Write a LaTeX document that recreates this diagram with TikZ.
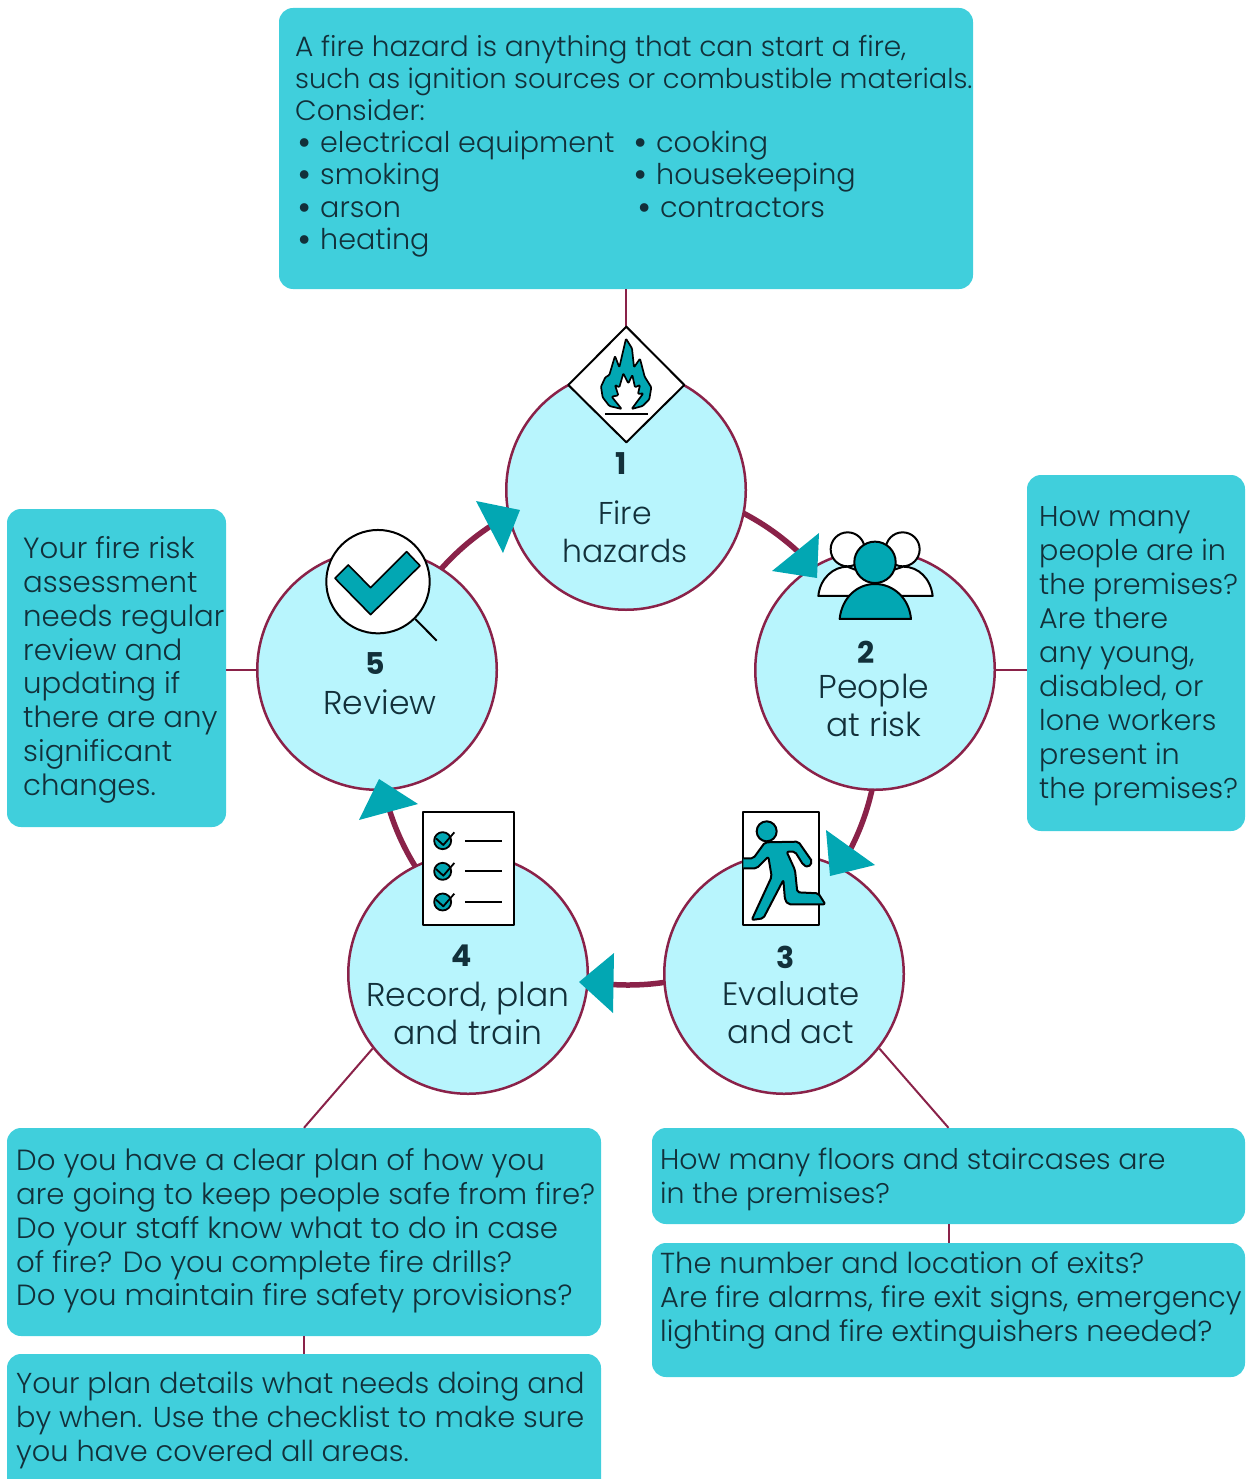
\documentclass[tikz,border=0pt]{standalone}
\usepackage{fontspec}
\setmainfont{Poppins}[UprightFont=* Light,BoldFont=* Bold]
\definecolor{boxc}{HTML}{40CFDC}
\definecolor{circc}{HTML}{B8F5FD}
\definecolor{linec}{HTML}{8A2249}
\definecolor{teal}{HTML}{02A7B3}
\definecolor{txt}{HTML}{12303A}
\newcommand{\blt}[1]{\makebox[23pt][l]{\bfseries •}#1}
\newcommand{\fsz}[2]{\fontsize{#1}{#2}\selectfont}
\tikzset{
  box/.style={rectangle,rounded corners=14pt,fill=boxc,draw=none,inner sep=0pt},
  stepcirc/.style={circle,fill=circc,draw=linec,line width=2.5pt,minimum size=239.5pt,inner sep=0pt},
  ringc/.style={circle,draw=linec,line width=5.5pt,minimum size=500pt,inner sep=0pt},
  link/.style={draw=linec,line width=2pt},
  head/.style={fill=teal,draw=none},
  icon/.style={draw=black,line width=2pt,line join=round},
  ttext/.style={text=txt,anchor=north west,align=left,inner sep=0pt},
  tnum/.style={text=txt,inner sep=0pt,font=\fontsize{30}{34}\bfseries\selectfont},
  tlab/.style={text=txt,inner sep=0pt,align=center,font=\fontsize{33}{38}\selectfont},
}
\begin{document}
\begin{tikzpicture}[x=1pt,y=-1pt]
\useasboundingbox (0,0) rectangle (1249,1479);
\clip (0,0) rectangle (1249,1479);
% boxes
\node[box,minimum width=694pt,minimum height=281pt] (btop) at (626,148.5) {};
\node[box,minimum width=218pt,minimum height=356pt] (bright) at (1136,653) {};
\node[box,minimum width=219pt,minimum height=318pt] (bleft) at (116.5,668) {};
\node[box,minimum width=594pt,minimum height=208pt] (bla) at (304,1232) {};
\node[box,minimum width=594pt,minimum height=146pt] (blb) at (304,1427) {};
\node[box,minimum width=593pt,minimum height=96pt] (bra) at (948.5,1176) {};
\node[box,minimum width=593pt,minimum height=134pt] (brb) at (948.5,1310) {};
% ring
\node[ringc] (ring) at (628,735) {};
% steps
\node[stepcirc] (c1) at (626,490) {};
\node[stepcirc] (c2) at (875,670) {};
\node[stepcirc] (c3) at (784,974) {};
\node[stepcirc] (c4) at (468,974) {};
\node[stepcirc] (c5) at (377,670) {};
% connectors
\draw[link] (btop.south) -- (c1.north);
\draw[link] (c2.east) -- (c2.east -| bright.west);
\draw[link] (c5.west) -- (c5.west -| bleft.east);
\draw[link] (c3.-38) -- (bra.north);
\draw[link] (c4.218) -- (bla.north);
\draw[link] (bra.south) -- (brb.north);
\draw[link] (bla.south) -- (blb.north);
% arrowheads
\fill[head] (819,533) -- (772,571) -- (817,578) -- cycle;
\fill[head] (826,830) -- (875,865) -- (830,876) -- cycle;
\fill[head] (579,982) -- (614,953) -- (613,1013) -- cycle;
\fill[head] (379,779) -- (418,804) -- (359,820) -- cycle;
\fill[head] (476,501) -- (520,510) -- (503,553) -- cycle;
% icon 1
\begin{scope}[shift={(500,280)},x=0.3333pt,y=-0.3333pt]
\draw[icon,fill=white] (379,140) -- (553,315) -- (379,487) -- (205,315) -- cycle;
\draw[icon,fill=teal,line width=1.7pt,rounded corners=1pt] (365,387) -- (328,378) -- (308,352) -- (303,320) -- (316,292) -- (328,285) -- (345,228) -- (358,262) -- (378,176) -- (396,205) -- (402,262) -- (420,236) -- (434,290) -- (454,322) -- (448,358) -- (428,378) -- (395,387) -- (430,340) -- (414,342) -- (420,315) -- (405,322) -- (397,285) -- (385,310) -- (370,280) -- (358,322) -- (345,315) -- (355,346) -- (335,350) -- cycle;
\draw[icon] (315,401) -- (443,401);
\end{scope}
% icon 2
\begin{scope}[shift={(740,510)},x=0.3333pt,y=-0.3333pt]
\draw[icon,fill=white] (323,118) circle[radius=17pt];
\draw[icon,fill=white] (488,118) circle[radius=17pt];
\draw[icon,fill=white] (235,258) .. controls (240,205) and (280,170) .. (322,170) -- (400,200) -- (490,170) .. controls (535,170) and (572,205) .. (578,258) -- cycle;
\draw[icon,fill=teal] (405,157) circle[radius=20.7pt];
\draw[icon,fill=teal] (299,327) .. controls (305,265) and (350,222) .. (405,222) .. controls (460,222) and (508,265) .. (513,327) -- cycle;
\end{scope}
% icon 3
\begin{scope}[shift={(720,790)},x=0.3333pt,y=-0.3333pt]
\draw[icon,fill=white] (70,67) rectangle (298,404);
\draw[icon,fill=teal] (140,124) circle[radius=10pt];
\draw[icon,fill=teal,rounded corners=2pt] (70,205) -- (100,205) -- (135,157) -- (235,155) -- (277,215) -- (265,232) -- (250,225) -- (225,185) -- (200,185) -- (225,240) -- (232,307) -- (295,310) -- (316,343) -- (205,343) -- (195,330) -- (190,270) -- (130,385) -- (95,390) -- (155,260) -- (145,200) -- (110,235) -- (70,235);
\end{scope}
% icon 4
\begin{scope}[shift={(350,770)},x=0.3333pt,y=-0.3333pt]
\draw[icon,fill=white] (218,125) rectangle (493,466);
\foreach \yy in {212,304,396}{
  \draw[icon,fill=teal,line width=1.8pt] (278,\yy) circle[radius=8.5pt];
  \draw[icon,line width=1.8pt] (258,\yy-7) -- (280,\yy+13) -- (313,\yy-25);
  \draw[icon] (345,\yy) -- (457,\yy);
}
\end{scope}
% icon 5
\begin{scope}[shift={(310,510)},x=0.3333pt,y=-0.3333pt]
\draw[icon,fill=white] (204,215) circle[radius=51.7pt];
\draw[icon] (316,327) -- (380,392);
\draw[icon,fill=teal,line width=1.6pt] (75,205) -- (115,165) -- (182,233) -- (290,125) -- (330,167) -- (182,314) -- cycle;
\end{scope}
% step labels
\node[tnum] (n1) at (621,464) {1};
\node[tlab,font=\fsz{31.5}{38}] (l1) at (625,532) {Fire\\hazards};
\node[tnum] (n2) at (866,652) {2};
\node[tlab] (l2) at (874,705) {People\\at risk};
\node[tnum] (n3) at (786,957) {3};
\node[tlab,font=\fsz{32.4}{38}] (l3) at (791,1013) {Evaluate\\and act};
\node[tnum] (n4) at (462,956) {4};
\node[tlab] (l4) at (468,1013) {Record, plan\\and train};
\node[tnum] (n5) at (375,664) {5};
\node[tlab] (l5) at (380,702) {Review};
% box texts
\node[ttext,font=\fsz{28}{32.3}] (t1) at (295,35) {A fire hazard is anything that can start a fire,\\{\fsz{27.3}{32.3}such as ignition sources or combustible materials.}\\Consider:};
\node[ttext,font=\fsz{28.6}{32.4}] (t2) at (297,130.5) {\blt{electrical equipment}\\\blt{smoking}\\\blt{arson}\\\blt{heating}};
\node[ttext,font=\fsz{28.6}{32.4}] (t3) at (633,130.5) {\blt{cooking}\\\blt{housekeeping}\\\hspace*{4pt}\blt{contractors}};
\node[ttext,font=\fsz{28.6}{34.05}] (t4) at (1039,506) {How many\\people are in\\the premises?\\Are there\\any young,\\disabled, or\\lone workers\\present in\\the premises?};
\node[ttext,font=\fsz{29.2}{33.9}] (t5) at (23,536) {Your fire risk\\assessment\\needs regular\\review and\\updating if\\there are any\\significant\\changes.};
\node[ttext,font=\fsz{29.2}{33.9}] (t6) at (16,1148) {Do you have a clear plan of how you\\are going to keep people safe from fire?\\Do your staff know what to do in case\\of fire? Do you complete fire drills?\\Do you maintain fire safety provisions?};
\node[ttext,font=\fsz{28.8}{33.9}] (t7) at (16,1372) {Your plan details what needs doing and\\by when. Use the checklist to make sure\\you have covered all areas.};
\node[ttext,font=\fsz{28.4}{33.9}] (t8) at (660,1148) {How many floors and staircases are\\in the premises?};
\node[ttext,font=\fsz{28.9}{33.9}] (t9) at (660,1251.5) {The number and location of exits?\\Are fire alarms, fire exit signs, emergency\\lighting and fire extinguishers needed?};
\end{tikzpicture}
\end{document}
